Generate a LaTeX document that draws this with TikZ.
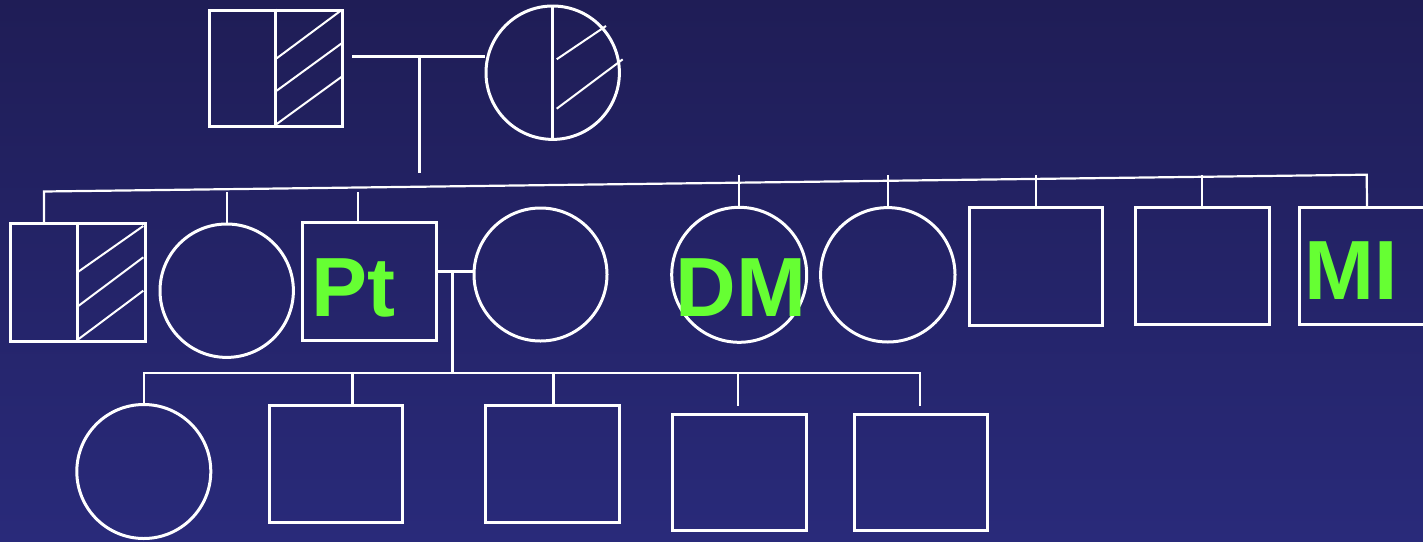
\documentclass[tikz,border=0pt]{standalone}
\usepackage{fontspec}
\setmainfont{Liberation Sans}
\begin{document}
\definecolor{bgtop}{RGB}{31,29,86}
\definecolor{bgbot}{RGB}{41,42,122}
\definecolor{lbl}{RGB}{102,255,51}
\begin{tikzpicture}[x=0.5pt,y=-0.5pt,
  sq/.style={draw=white,line width=1.5pt,rectangle,inner sep=0pt,minimum width=67pt,minimum height=58.5pt},
  ci/.style={draw=white,line width=1.5pt,circle,inner sep=0pt,minimum size=66.7pt},
  ln/.style={draw=white,line width=1.5pt},
  thinln/.style={draw=white,line width=1.1pt},
  hatch/.style={draw=white,line width=1pt},
  lab/.style={text=lbl,font=\fontsize{42}{42}\selectfont\bfseries,inner sep=0pt,anchor=base}]
\useasboundingbox (0,0) rectangle (1423,541);
\fill[top color=bgtop,bottom color=bgbot] (0,0) rectangle (1423,541);
\clip (0,0) rectangle (1423,541);

% generation I
\node[sq,minimum width=66.5pt,minimum height=58pt] (fa) at (275.5,68) {};
\node[ci] (mo) at (552.7,72.7) {};
\draw[ln] (fa.north) -- (fa.south);
\draw[ln] (mo.north) -- (mo.south);
\draw[hatch] (276.7,124) -- (341.7,76.7);
\draw[hatch] (276.7,90.7) -- (341.7,43.3);
\draw[hatch] (276.7,58.3) -- (341.7,10);
\draw[hatch] (556.7,59.3) -- (606,26);
\draw[hatch] (556.7,108.7) -- (622.7,59.3);
\coordinate (m1) at (419.3,56.7);
\coordinate (m1l) at (352,56.7);
\draw[ln] (m1l) -- (mo.west |- m1l);
\draw[ln] (m1) -- (419.3,172.7);

% generation II
\node[sq,minimum width=67.2pt,minimum height=59.2pt] (c1) at (77.8,282.5) {};
\node[ci] (c2) at (226.7,290.7) {};
\node[sq,minimum width=67.2pt,minimum height=58.9pt] (pt) at (369.5,281.2) {};
\node[lab] (ptl) at (353.6,316) {Pt};
\node[ci,minimum size=66.5pt] (sp) at (540.5,274.5) {};
\node[ci,minimum size=67.5pt] (dm) at (739.2,274.8) {};
\node[lab] (dml) at (741,316) {DM};
\node[ci,minimum size=67.2pt] (c5) at (887.8,274.8) {};
\node[sq,minimum width=66.4pt,minimum height=58.9pt] (s1) at (1035.7,266.2) {};
\node[sq,minimum width=67.2pt,minimum height=58.3pt] (s2) at (1202.2,266) {};
\node[sq,minimum width=67.2pt,minimum height=58.3pt] (mi) at (1367,266) {};
\node[lab] (mil) at (1350.7,299) {MI};
\draw[ln] (c1.north) -- (c1.south);
\draw[hatch] (78.3,339.3) -- (143.3,290.7);
\draw[hatch] (78.3,306) -- (143.3,257.3);
\draw[hatch] (78.3,271.7) -- (143.3,226);

% sibship line of generation II
\coordinate (sl) at (44,191.5);
\coordinate (sr) at (1366.7,174.7);
\draw[thinln] (sl |- c1.north) -- (sl) -- (sr) -- (mi.north);
\coordinate (d2) at (226.7,192);
\coordinate (d3) at (358.3,192);
\draw[thinln] (d2) -- (c2.north);
\draw[thinln] (d3) -- (d3 |- pt.north);
\coordinate (t) at (0,175);
\draw[thinln] (dm.north |- t) -- (dm.north);
\draw[thinln] (c5.north |- t) -- (c5.north);
\draw[thinln] (s1.north |- t) -- (s1.north);
\draw[thinln] (s2.north |- t) -- (s2.north);

% marriage of Pt
\coordinate (m2) at (452.3,271.7);
\draw[ln] (pt.east |- m2) -- (sp.west |- m2);

% generation III
\node[ci,minimum size=67pt] (k1) at (143.8,471.5) {};
\node[sq,minimum width=66.7pt,minimum height=58.4pt] (k2) at (336,464.3) {};
\node[sq,minimum width=66.7pt,minimum height=58.4pt] (k3) at (552.5,464.3) {};
\node[sq,minimum width=66.9pt,minimum height=58.2pt] (k4) at (739.2,472.5) {};
\node[sq,minimum width=66.9pt,minimum height=58.2pt] (k5) at (921,472.5) {};
\coordinate (gl) at (143.3,373.3);
\coordinate (gr) at (920.3,373.3);
\draw[ln] (m2) -- (m2 |- gl);
\draw[thinln] (k1.north) -- (k1.north |- gl) -- (gr) -- (920.3,406);
\coordinate (e2) at (352.3,373.3);
\coordinate (e3) at (553.3,373.3);
\coordinate (e4) at (738.3,373.3);
\draw[ln] (e2) -- (e2 |- k2.north);
\draw[ln] (e3) -- (e3 |- k3.north);
\draw[thinln] (e4) -- (738.3,406);
\end{tikzpicture}
\end{document}
